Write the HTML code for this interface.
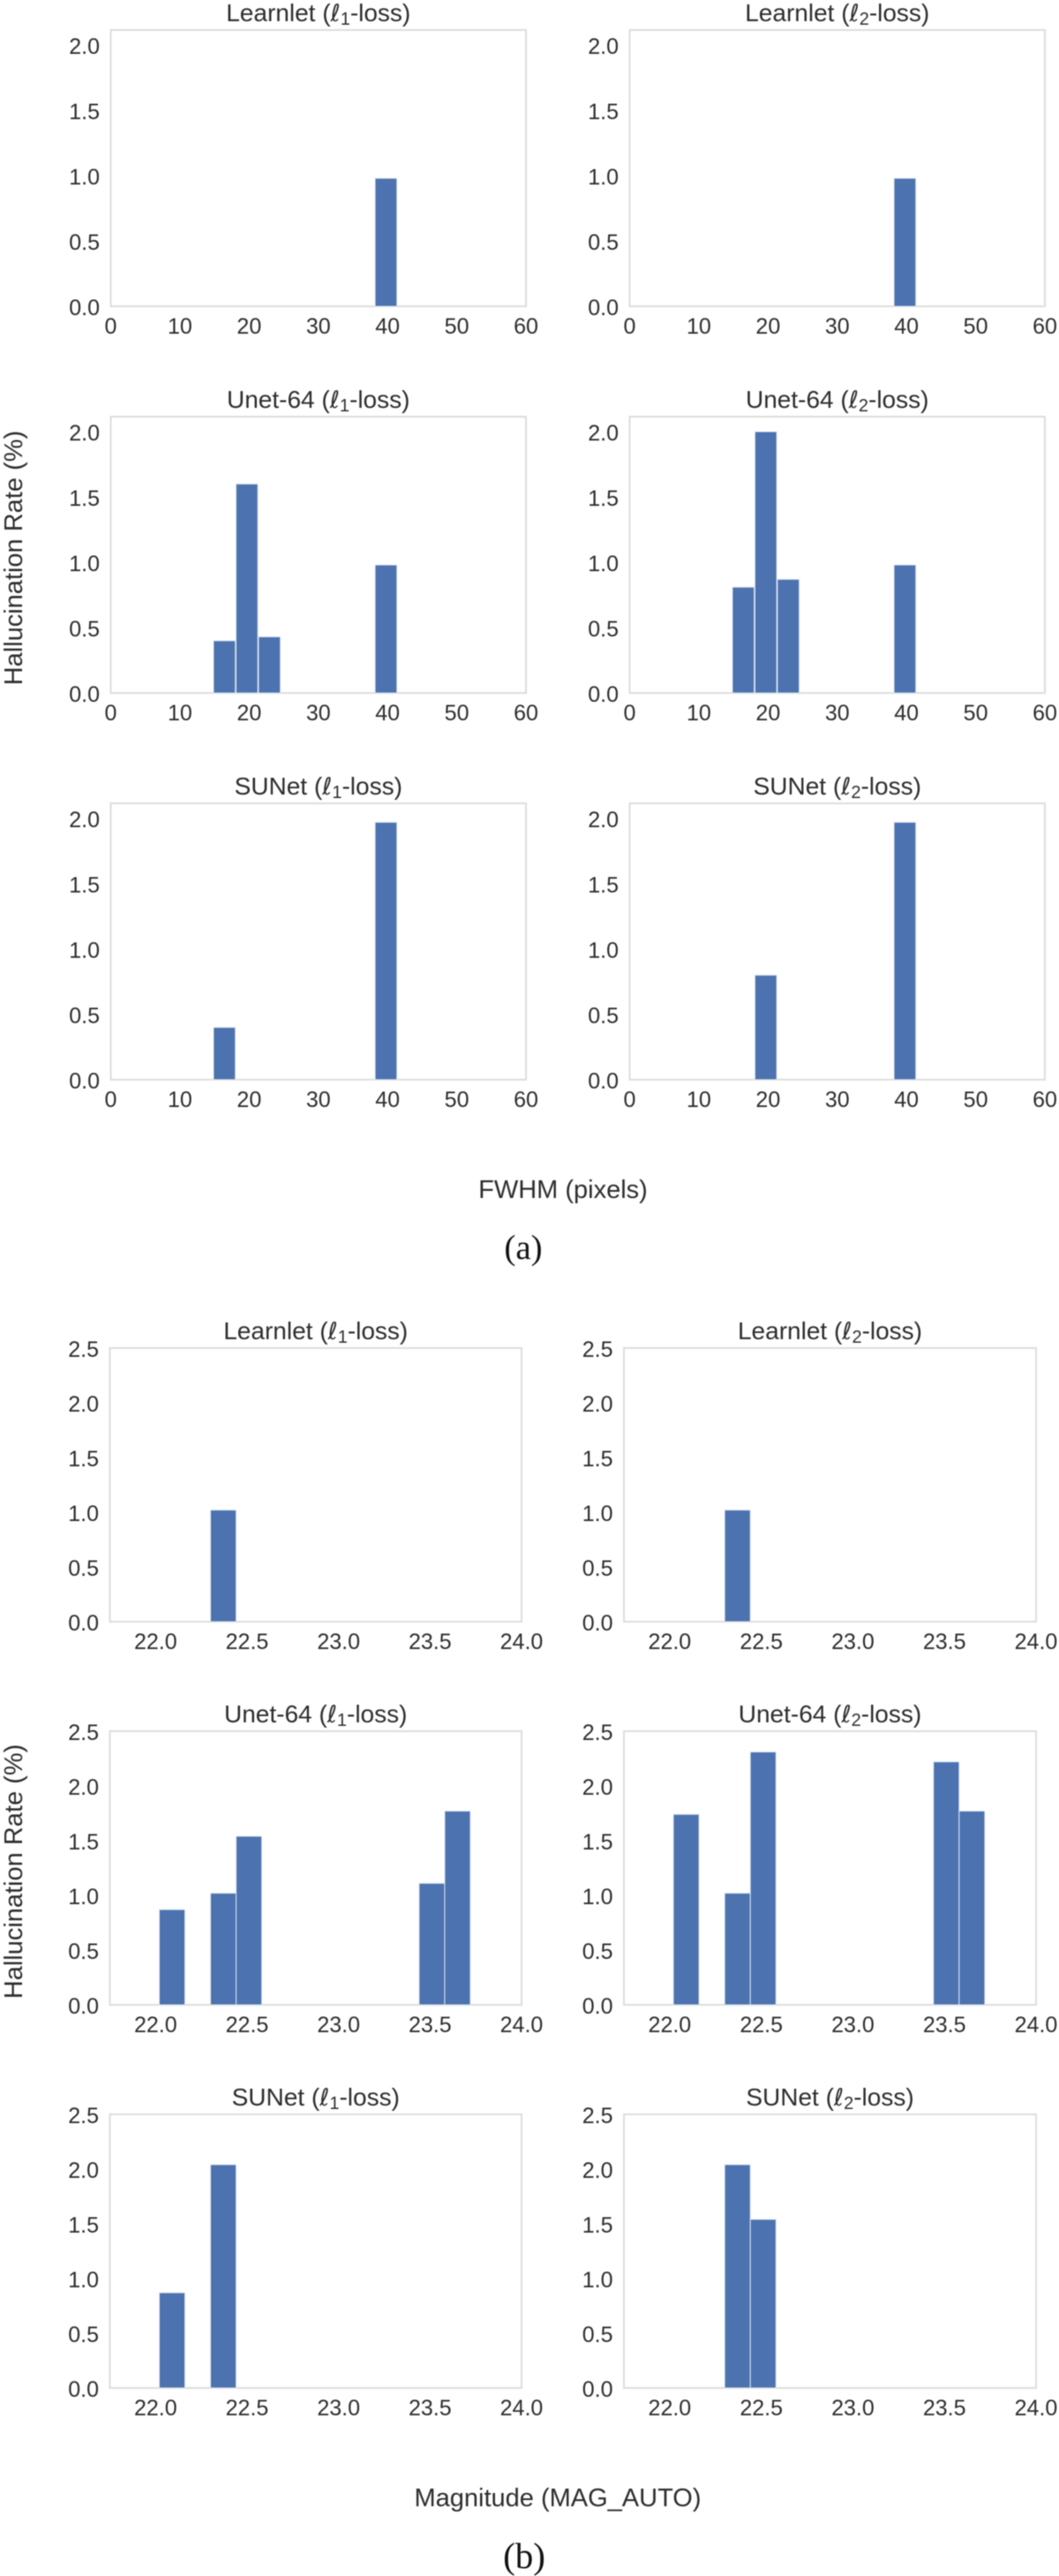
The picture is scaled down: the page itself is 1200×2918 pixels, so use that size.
<!DOCTYPE html>
<html lang="en">
<head>
<meta charset="utf-8">
<title>Hallucination rate histograms</title>
<style>
html,body{margin:0;padding:0;background:#fff;}
svg{display:block;filter:blur(0.45px);}
text{font-family:"Liberation Sans",Arial,sans-serif;fill:#2d2d2d;}
.serif{font-family:"Liberation Serif","Times New Roman",serif;fill:#111;}
.ell{font-family:"DejaVu Sans",sans-serif;font-style:italic;}
</style>
</head>
<body>
<svg id="chart" xmlns="http://www.w3.org/2000/svg" width="1200" height="2918" viewBox="0 0 1200 2918"></svg>
<script>
/* ---------- data ---------- */
const models = ["Learnlet", "Unet-64", "SUNet"];
const losses = ["1", "2"];

const fwhmTicks = [0, 10, 20, 30, 40, 50, 60];
const fwhmRateTicks = ["0.0", "0.5", "1.0", "1.5", "2.0"];
const fwhmBinWidth = 3.15;
const fwhmLearnletL1Bins = [38.2];
const fwhmLearnletL1Rates = [0.98];
const fwhmLearnletL2Bins = [38.2];
const fwhmLearnletL2Rates = [0.98];
const fwhmUnetL1Bins = [14.85, 18.1, 21.35, 38.2];
const fwhmUnetL1Rates = [0.40, 1.60, 0.43, 0.98];
const fwhmUnetL2Bins = [14.85, 18.1, 21.35, 38.2];
const fwhmUnetL2Rates = [0.81, 2.00, 0.87, 0.98];
const fwhmSunetL1Bins = [14.85, 38.2];
const fwhmSunetL1Rates = [0.40, 1.97];
const fwhmSunetL2Bins = [18.1, 38.2];
const fwhmSunetL2Rates = [0.80, 1.97];

const magTicks = ["22.0", "22.5", "23.0", "23.5", "24.0"];
const magRateTicks = ["0.0", "0.5", "1.0", "1.5", "2.0", "2.5"];
const magBinWidth = 0.14;
const magLearnletL1Bins = [22.30];
const magLearnletL1Rates = [1.02];
const magLearnletL2Bins = [22.30];
const magLearnletL2Rates = [1.02];
const magUnetL1Bins = [22.02, 22.30, 22.44, 23.44, 23.58];
const magUnetL1Rates = [0.87, 1.02, 1.54, 1.11, 1.77];
const magUnetL2Bins = [22.02, 22.30, 22.44, 23.44, 23.58];
const magUnetL2Rates = [1.74, 1.02, 2.31, 2.22, 1.77];
const magSunetL1Bins = [22.02, 22.30];
const magSunetL1Rates = [0.87, 2.04];
const magSunetL2Bins = [22.30, 22.44];
const magSunetL2Rates = [2.04, 1.54];

/* ---------- helpers ---------- */
const NS = "http://www.w3.org/2000/svg";
const svg = document.getElementById("chart");

function make(tag, parent, attrs) {
  const el = document.createElementNS(NS, tag);
  for (const k in attrs) el.setAttribute(k, attrs[k]);
  parent.appendChild(el);
  return el;
}

function label(parent, x, y, str, size, anchor, name) {
  const t = make("text", parent, {x: x, y: y, "font-size": size, "text-anchor": anchor});
  t.textContent = str;
  
  
  return t;
}

function panel(cfg) {
  const g = make("g", svg, {});
  
  

  const xs = v => cfg.left + (v - cfg.xMin) / (cfg.xMax - cfg.xMin) * (cfg.right - cfg.left);
  const ys = v => cfg.bottom - (v - 0) / cfg.yMax * (cfg.bottom - cfg.top);

  /* title with math subscript */
  const title = make("text", g, {x: (cfg.left + cfg.right) / 2, y: cfg.top - 10, "font-size": 28, "text-anchor": "middle"});
  
  
  const a = make("tspan", title, {}); a.textContent = cfg.model + " (";
  const b = make("tspan", title, {class: "ell", "font-size": 27}); b.textContent = "\u2113";
  const c = make("tspan", title, {dy: 4, "font-size": 20}); c.textContent = cfg.loss;
  const d = make("tspan", title, {dy: -4}); d.textContent = "-loss)";

  /* axes frame */
  const frame = make("rect", g, {x: cfg.left, y: cfg.top, width: cfg.right - cfg.left, height: cfg.bottom - cfg.top, fill: "#fff", stroke: "#dcdcdc", "stroke-width": 2});
  
  

  /* bars */
  cfg.bins.forEach((bin, i) => {
    const x0 = xs(bin), x1 = xs(bin + cfg.binWidth), y1 = ys(cfg.rates[i]);
    const bar = make("rect", g, {x: x0, y: y1, width: x1 - x0, height: cfg.bottom - y1, fill: "#4c72b0", stroke: "#dfe6f2", "stroke-width": 1});
    
    
  });

  /* tick labels */
  cfg.xTicks.forEach(t => {
    label(g, xs(parseFloat(t)), cfg.bottom + 31, String(t), 25, "middle", cfg.name + '-x-tick');
  });
  cfg.yTicks.forEach(t => {
    label(g, cfg.left - 12.5, ys(parseFloat(t)) + 10.2, t, 25, "end", cfg.name + '-y-tick');
  });
}

/* ---------- group a: FWHM ---------- */
const fwhmBinsByPanel = [
  [fwhmLearnletL1Bins, fwhmLearnletL2Bins],
  [fwhmUnetL1Bins, fwhmUnetL2Bins],
  [fwhmSunetL1Bins, fwhmSunetL2Bins]
];
const fwhmRatesByPanel = [
  [fwhmLearnletL1Rates, fwhmLearnletL2Rates],
  [fwhmUnetL1Rates, fwhmUnetL2Rates],
  [fwhmSunetL1Rates, fwhmSunetL2Rates]
];
const magBinsByPanel = [
  [magLearnletL1Bins, magLearnletL2Bins],
  [magUnetL1Bins, magUnetL2Bins],
  [magSunetL1Bins, magSunetL2Bins]
];
const magRatesByPanel = [
  [magLearnletL1Rates, magLearnletL2Rates],
  [magUnetL1Rates, magUnetL2Rates],
  [magSunetL1Rates, magSunetL2Rates]
];

models.forEach((model, r) => {
  losses.forEach((loss, c) => {
    const top = 34 + r * 438;
    panel({
      name: "fwhm-" + model.toLowerCase() + "-l" + loss,
      model: model, loss: loss,
      left: c === 0 ? 125.5 : 713.5,
      right: c === 0 ? 596 : 1184,
      top: top, bottom: top + 313,
      xMin: 0, xMax: 60, yMax: 2.115,
      bins: fwhmBinsByPanel[r][c], rates: fwhmRatesByPanel[r][c],
      binWidth: fwhmBinWidth,
      xTicks: fwhmTicks, yTicks: fwhmRateTicks
    });
  });
});

/* ---------- group b: magnitude ---------- */
models.forEach((model, r) => {
  losses.forEach((loss, c) => {
    const top = 1527 + r * 434;
    panel({
      name: "magnitude-" + model.toLowerCase() + "-l" + loss,
      model: model, loss: loss,
      left: c === 0 ? 124.5 : 707,
      right: c === 0 ? 591 : 1174,
      top: top, bottom: top + 310,
      xMin: 21.75, xMax: 24, yMax: 2.5,
      bins: magBinsByPanel[r][c], rates: magRatesByPanel[r][c],
      binWidth: magBinWidth,
      xTicks: magTicks, yTicks: magRateTicks
    });
  });
});

/* ---------- shared labels ---------- */
const yA = label(svg, 0, 0, "Hallucination Rate (%)", 29, "middle", "y-axis-title-fwhm");
yA.setAttribute("transform", "translate(25,632) rotate(-90)");
const yB = label(svg, 0, 0, "Hallucination Rate (%)", 29, "middle", "y-axis-title-magnitude");
yB.setAttribute("transform", "translate(25,2120) rotate(-90)");
label(svg, 638, 1357, "FWHM (pixels)", 29, "middle", "x-axis-title-fwhm");
label(svg, 632, 2839, "Magnitude (MAG_AUTO)", 29, "middle", "x-axis-title-magnitude");
const capA = label(svg, 593, 1426, "(a)", 39, "middle", "caption-a");
capA.setAttribute("class", "serif");
const capB = label(svg, 594, 2909, "(b)", 41, "middle", "caption-b");
capB.setAttribute("class", "serif");
</script>
</body>
</html>
